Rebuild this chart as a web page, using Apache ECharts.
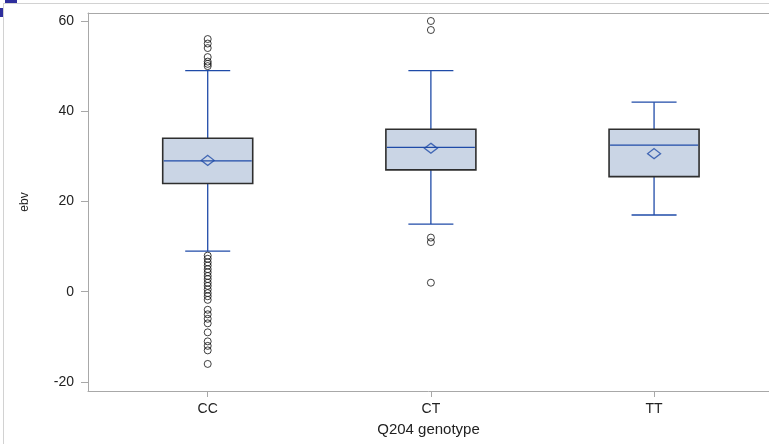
<!DOCTYPE html>
<html>
<head>
<meta charset="utf-8">
<title>ebv by Q204 genotype</title>
<script src="https://cdn.jsdelivr.net/npm/echarts@6/dist/echarts.min.js"></script>
<style>
  html, body { margin: 0; padding: 0; background: #fff; }
  #chart { width: 769px; height: 444px; }
</style>
</head>
<body>
<div id="chart"></div>
<script>
// Genotype groups and their box statistics
const categories = ['CC', 'CT', 'TT'];
const whiskerLow = [9, 15, 17];
const q1 = [24, 27, 25.5];
const median = [29, 32, 32.5];
const q3 = [34, 36, 36];
const whiskerHigh = [49, 49, 42];
const means = [29.1, 31.8, 30.6];

// Outlying observations per group
const outliersCC = [56, 55, 54, 52, 51, 50.5, 50,
  8, 7.3, 6.5, 5.8, 5, 4.3, 3.5, 2.8, 2, 1.3, 0.5, -0.3, -1, -1.8,
  -4, -5, -6, -7, -9, -11, -12, -13, -16];
const outliersCT = [60, 58, 12, 11, 2];
const outliersTT = [];

const yTicks = [-20, 0, 20, 40, 60];
const xTicks = [1, 2, 3];

const boxData = categories.map((c, i) => [i + 1, whiskerLow[i], q1[i], median[i], q3[i], whiskerHigh[i]]);
const meanData = categories.map((c, i) => [i + 1, means[i]]);
const outlierData = []
  .concat(outliersCC.map(v => [1, v]))
  .concat(outliersCT.map(v => [2, v]))
  .concat(outliersTT.map(v => [3, v]));

const BOX_FILL = '#CAD5E5';
const BOX_EDGE = '#2e2e2e';
const WHISKER = '#1F4BA8';
const AXIS_GRAY = '#A8A8A8';
const TEXT = '#222';
const FONT = '"Liberation Sans", Arial, sans-serif';

function renderBox(params, api) {
  const x = api.value(0);
  const boxW = api.size([0.4033, 0])[0];
  const capW = boxW / 2;
  const pLow = api.coord([x, api.value(1)]);
  const pQ1 = api.coord([x, api.value(2)]);
  const pMed = api.coord([x, api.value(3)]);
  const pQ3 = api.coord([x, api.value(4)]);
  const pHigh = api.coord([x, api.value(5)]);
  const cx = pMed[0];
  const lineStyle = { stroke: WHISKER, lineWidth: 1.3 };
  return {
    type: 'group',
    children: [
      { type: 'line', shape: { x1: cx, y1: pLow[1], x2: cx, y2: pQ1[1] }, style: lineStyle },
      { type: 'line', shape: { x1: cx, y1: pQ3[1], x2: cx, y2: pHigh[1] }, style: lineStyle },
      { type: 'line', shape: { x1: cx - capW / 2, y1: pLow[1], x2: cx + capW / 2, y2: pLow[1] }, style: lineStyle },
      { type: 'line', shape: { x1: cx - capW / 2, y1: pHigh[1], x2: cx + capW / 2, y2: pHigh[1] }, style: lineStyle },
      { type: 'rect', shape: { x: cx - boxW / 2, y: pQ3[1], width: boxW, height: pQ1[1] - pQ3[1] },
        style: { fill: BOX_FILL, stroke: BOX_EDGE, lineWidth: 1.6 } },
      { type: 'line', shape: { x1: cx - boxW / 2 + 1, y1: pMed[1], x2: cx + boxW / 2 - 1, y2: pMed[1] }, style: lineStyle }
    ]
  };
}

const chart = echarts.init(document.getElementById('chart'), null, { renderer: 'canvas' });
chart.setOption({
  animation: false,
  backgroundColor: '#fff',
  textStyle: { fontFamily: FONT },
  grid: { left: 88, top: 13, right: 0, bottom: 53, containLabel: false, outerBoundsMode: 'none' },
  xAxis: [{
    type: 'value',
    min: 0.4636,
    max: 3.515,
    name: 'Q204 genotype',
    nameLocation: 'middle',
    nameGap: 31,
    nameTextStyle: { color: TEXT, fontSize: 15, fontFamily: FONT },
    axisLine: { show: true, onZero: false, lineStyle: { color: AXIS_GRAY, width: 1 } },
    axisTick: { show: true, length: 6, customValues: xTicks, lineStyle: { color: AXIS_GRAY } },
    axisLabel: { customValues: xTicks, margin: 11, color: TEXT, fontSize: 14, fontFamily: FONT,
      formatter: v => categories[Math.round(v) - 1] || '' },
    splitLine: { show: false }
  }, {
    type: 'value',
    position: 'top',
    min: 0.4636,
    max: 3.515,
    axisLine: { show: true, onZero: false, lineStyle: { color: AXIS_GRAY, width: 1 } },
    axisTick: { show: false },
    axisLabel: { show: false },
    splitLine: { show: false }
  }],
  yAxis: {
    type: 'value',
    min: -22,
    max: 61.77,
    name: 'ebv',
    nameLocation: 'middle',
    nameGap: 57,
    nameRotate: 90,
    nameTextStyle: { color: TEXT, fontSize: 12, fontFamily: FONT },
    axisLine: { show: true, onZero: false, lineStyle: { color: AXIS_GRAY, width: 1 } },
    axisTick: { show: true, length: 7, customValues: yTicks, lineStyle: { color: AXIS_GRAY } },
    axisLabel: { customValues: yTicks, margin: 14, color: TEXT, fontSize: 14, fontFamily: FONT },
    splitLine: { show: false }
  },
  graphic: [
    { type: 'line', shape: { x1: 3, y1: 3.5, x2: 769, y2: 3.5 }, style: { stroke: '#D2D2D2', lineWidth: 1 }, silent: true },
    { type: 'line', shape: { x1: 3.5, y1: 3, x2: 3.5, y2: 444 }, style: { stroke: '#D2D2D2', lineWidth: 1 }, silent: true },
    { type: 'rect', shape: { x: 5, y: 0, width: 12, height: 3 }, style: { fill: '#2E2E9C' }, silent: true },
    { type: 'rect', shape: { x: 0, y: 8, width: 3, height: 9 }, style: { fill: '#2E2E9C' }, silent: true }
  ],
  series: [{
    type: 'custom',
    name: 'box',
    renderItem: renderBox,
    encode: { x: 0, y: [1, 2, 3, 4, 5] },
    data: boxData,
    z: 2
  }, {
    type: 'scatter',
    name: 'mean',
    data: meanData,
    symbol: 'diamond',
    symbolSize: [13, 10],
    itemStyle: { color: 'rgba(0,0,0,0)', borderColor: WHISKER, borderWidth: 1.3 },
    z: 4
  }, {
    type: 'scatter',
    name: 'outliers',
    data: outlierData,
    symbol: 'circle',
    symbolSize: 7,
    itemStyle: { color: 'rgba(0,0,0,0)', borderColor: '#111', borderWidth: 1 },
    z: 3
  }]
});
</script>
</body>
</html>
